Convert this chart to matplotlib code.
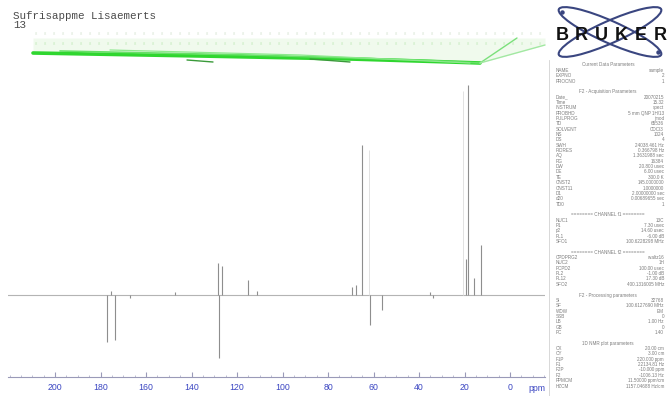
import matplotlib
matplotlib.use("Agg")
import matplotlib.pyplot as plt
from matplotlib.patches import Ellipse
from matplotlib.ticker import MultipleLocator

plt.rcParams["font.family"] = ["Liberation Sans", "DejaVu Sans"]

# ---- spectrum peak list (ppm, relative intensity; negative = inverted) ----
peak_ppm = [177.3, 175.2, 173.6, 167.0, 147.3, 128.4, 127.9, 126.8, 115.0,
            111.4, 69.5, 67.7, 65.2, 56.4, 61.4, 35.0, 33.8, 19.3, 18.6,
            15.8, 12.7]
peak_int = [-22.2, 2.0, -21.5, -1.5, 1.5, 15.2, -30.0, 14.0, 7.1,
            2.0, 3.8, 5.0, 71.4, -7.1, -14.3, 1.5, -1.5, 17.0, 100.0,
            8.1, 23.8]
# weak shoulder traces beside the strong lines
ghost_ppm = [62.0, 20.5]
ghost_int = [69.0, 97.0]

tick_ppm = [200, 180, 160, 140, 120, 100, 80, 60, 40, 20, 0]
tick_labels = ["200", "180", "160", "140", "120", "100", "80", "60", "40", "20", "0"]

title_line1 = "Sufrisappme Lisaemerts"
title_line2 = "13"

# acquisition / processing parameter block
param_rows = [
    ("hdr", "Current Data Parameters"),
    ("NAME", "sample"), ("EXPNO", "2"), ("PROCNO", "1"),
    ("", ""),
    ("hdr", "F2 - Acquisition Parameters"),
    ("Date_", "20070215"), ("Time", "15.32"), ("INSTRUM", "spect"),
    ("PROBHD", "5 mm QNP 1H/13"), ("PULPROG", "jmod"), ("TD", "65536"),
    ("SOLVENT", "CDCl3"), ("NS", "1024"), ("DS", "4"),
    ("SWH", "24038.461 Hz"), ("FIDRES", "0.366798 Hz"),
    ("AQ", "1.3631988 sec"), ("RG", "16384"), ("DW", "20.800 usec"),
    ("DE", "6.00 usec"), ("TE", "300.0 K"), ("CNST2", "145.0000000"),
    ("CNST11", "1.0000000"), ("D1", "2.00000000 sec"),
    ("d20", "0.00689655 sec"), ("TD0", "1"),
    ("", ""),
    ("hdr", "======== CHANNEL f1 ========"),
    ("NUC1", "13C"), ("P1", "7.30 usec"), ("p2", "14.60 usec"),
    ("PL1", "-6.00 dB"), ("SFO1", "100.6228298 MHz"),
    ("", ""),
    ("hdr", "======== CHANNEL f2 ========"),
    ("CPDPRG2", "waltz16"), ("NUC2", "1H"), ("PCPD2", "100.00 usec"),
    ("PL2", "-1.00 dB"), ("PL12", "17.30 dB"), ("SFO2", "400.1316005 MHz"),
    ("", ""),
    ("hdr", "F2 - Processing parameters"),
    ("SI", "32768"), ("SF", "100.6127690 MHz"), ("WDW", "EM"),
    ("SSB", "0"), ("LB", "1.00 Hz"), ("GB", "0"), ("PC", "1.40"),
    ("", ""),
    ("hdr", "1D NMR plot parameters"),
    ("CX", "20.00 cm"), ("CY", "3.00 cm"), ("F1P", "220.000 ppm"),
    ("F1", "22134.81 Hz"), ("F2P", "-10.000 ppm"), ("F2", "-1006.13 Hz"),
    ("PPMCM", "11.50000 ppm/cm"), ("HZCM", "1157.04688 Hz/cm"),
]

W, H = 669, 396
fig = plt.figure(figsize=(W / 100, H / 100), dpi=100, facecolor="white")

# full-figure overlay in pixel units for header graphics and parameter block
ov = fig.add_axes([0, 0, 1, 1], zorder=0)
ov.set_xlim(0, W)
ov.set_ylim(H, 0)
ov.axis("off")

# ---- spectrum axes ----
x0, x1 = 8, 545
y_axis, y_top = 377, 70
ax = fig.add_axes([x0 / W, (H - y_axis) / H, (x1 - x0) / W, (y_axis - y_top) / H],
                  zorder=2)
ax.patch.set_alpha(0)
ppm_left = (510 - x0) / 2.275
ppm_right = (510 - x1) / 2.275
ax.set_xlim(ppm_left, ppm_right)
base_y = 295
ax.set_ylim(-(y_axis - base_y) / 2.1, (base_y - y_top) / 2.1)

ax.axhline(0, color="#b4b4b4", lw=0.8)
ax.vlines(ghost_ppm, 0, ghost_int, color="#e2e2e2", lw=0.7)
ax.vlines(peak_ppm, 0, peak_int, color="#8e8e8e", lw=0.8)

for s in ("top", "left", "right"):
    ax.spines[s].set_visible(False)
ax.spines["bottom"].set_color("#9a9ab8")
ax.spines["bottom"].set_linewidth(0.8)
ax.set_yticks([])
ax.set_xticks(tick_ppm)
ax.set_xticklabels(tick_labels)
ax.xaxis.set_minor_locator(MultipleLocator(5))
ax.tick_params(axis="x", which="major", direction="in", length=3.5,
               color="#9a9ab8", labelcolor="#3b46c2", labelsize=6.3, pad=4)
ax.tick_params(axis="x", which="minor", direction="in", length=1.8,
               color="#b4b4cc")
ov.text(537, 388.5, "ppm", ha="center", va="center", fontsize=6.3,
        color="#3b46c2")

# ---- header text ----
ov.text(13, 16, title_line1, family=["Liberation Mono", "DejaVu Sans Mono"],
        fontsize=7.8, color="#4a4a4a", va="center", ha="left")
ov.text(13, 25, title_line2, family=["Liberation Mono", "DejaVu Sans Mono"],
        fontsize=7.8, color="#4a4a4a", va="center", ha="left")

# integral trace band across the top
ov.fill_between([33, 480, 545], [38, 38, 38], [53, 63, 45], color="#e2f7dc",
                alpha=0.5, lw=0)
for yrow, col in ((34, "#d6e4d2"), (44, "#c4eabc")):
    for xc in range(36, 546, 9):
        ov.text(xc, yrow, "8", fontsize=3.0, color=col, ha="center", va="center")
sweeps = [
    ([33, 200, 350, 450, 480], [53, 56, 59, 62, 63], "#2fd62f", 2.6),
    ([60, 250, 420, 480], [51, 55, 60, 63], "#66e066", 1.2),
    ([110, 300, 470], [50, 55, 63], "#8de88d", 0.9),
    ([187, 213], [60, 62], "#3a9a3a", 1.0),
    ([310, 350], [59, 62], "#3a9a3a", 1.0),
    ([480, 517], [63, 38], "#7be07b", 1.0),
    ([480, 545], [63, 45], "#a2e8a2", 1.0),
]
for xs, ys, c, lw in sweeps:
    ov.plot(xs, ys, color=c, lw=lw, solid_capstyle="round")

# ---- logo ----
for ang in (24, -24):
    ov.add_patch(Ellipse((610, 32), 112, 22, angle=ang, fill=False,
                         ec="#3a4680", lw=1.5))
for ch, xc in zip("BRUKER", [562, 581, 601, 621, 641, 660]):
    ov.text(xc, 36, ch, fontsize=13, fontweight="heavy", color="#111111",
            ha="center", va="center")
for px, py in ((562, 12), (658, 52)):
    ov.plot(px, py, "o", ms=2.2, color="#3a4680")

# ---- parameter block ----
ov.plot([549, 549], [60, 396], color="#d2d2d2", lw=0.6)
yy = 65
for key, val in param_rows:
    if key == "hdr":
        ov.text(608, yy, val, fontsize=3.3, color="#7c7c7c", ha="center",
                va="center")
    elif key:
        ov.text(556, yy, key, fontsize=3.3, color="#7c7c7c", ha="left",
                va="center")
        ov.text(664, yy, val, fontsize=3.3, color="#7c7c7c", ha="right",
                va="center")
    yy += 5.35

fig.savefig("out.png", dpi=100, facecolor="white")
